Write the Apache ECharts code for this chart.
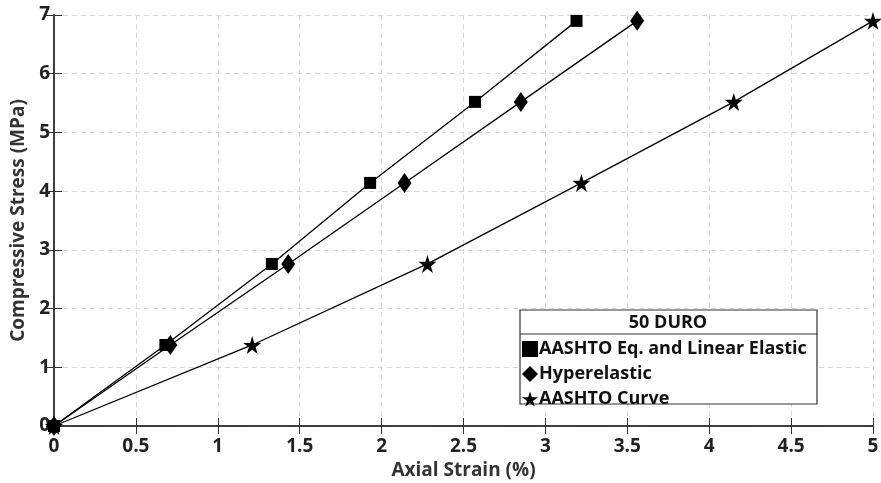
<!DOCTYPE html>
<html>
<head>
<meta charset="utf-8">
<script src="https://cdn.jsdelivr.net/npm/echarts@6/dist/echarts.min.js"></script>
<style>
  html, body { margin: 0; padding: 0; background: #fff; }
</style>
</head>
<body>
<div id="main" style="width: 881px;height:483px;"></div>
<script>
    // data
    var stress = [0, 1.38, 2.76, 4.14, 5.52, 6.9];
    var strainLinear = [0, 0.68, 1.33, 1.93, 2.57, 3.19];
    var strainHyper = [0, 0.71, 1.43, 2.14, 2.85, 3.56];
    var strainCurve = [0, 1.21, 2.28, 3.22, 4.15, 5.0];
    var seriesNames = ['AASHTO Eq. and Linear Elastic', 'Hyperelastic', 'AASHTO Curve'];
    var legendTitle = '50 DURO';

    var starPath = 'path://M50,0 L61,35 L98,35 L68,57 L79,91 L50,70 L21,91 L32,57 L2,35 L39,35 Z';
    var font = '"Open Sans", "DejaVu Sans", sans-serif';

    function pairs(xs) {
        return xs.map(function (x, i) { return [x, stress[i]]; });
    }

    var myChart = echarts.init(document.getElementById('main'));

    var axisText = { color: '#222', fontWeight: 'bold', fontSize: 19, fontFamily: font };
    var splitDash = { show: true, lineStyle: { color: '#d8d8d8', type: [5, 4], width: 1 } };

    var option = {
        backgroundColor: '#fff',
        animation: false,
        grid: { left: 54, right: 8, top: 15, bottom: 57, outerBoundsMode: 'none' },
        xAxis: [{
            type: 'value', min: 0, max: 5, interval: 0.5,
            name: 'Axial Strain (%)', nameLocation: 'middle', nameGap: 31,
            nameTextStyle: { color: '#333', fontWeight: 'bold', fontSize: 19, fontFamily: font },
            axisLine: { lineStyle: { color: '#333', width: 1.5 } },
            axisTick: { inside: true, length: 8, lineStyle: { color: '#333' } },
            axisLabel: Object.assign({ margin: 11 }, axisText),
            splitLine: splitDash
        }, {
            type: 'value', min: 0, max: 5, interval: 0.5, position: 'top',
            axisLine: { show: true, lineStyle: { color: '#333', width: 1.5 } },
            axisTick: { inside: true, length: 8, lineStyle: { color: '#333' } },
            axisLabel: { show: false }, splitLine: { show: false }
        }],
        yAxis: [{
            type: 'value', min: 0, max: 7, interval: 1,
            name: 'Compressive Stress (MPa)', nameLocation: 'middle', nameGap: 18,
            nameTextStyle: { color: '#333', fontWeight: 'bold', fontSize: 19, fontFamily: font },
            axisLine: { show: true, lineStyle: { color: '#333', width: 1.5 } },
            axisTick: { inside: true, length: 8, lineStyle: { color: '#333' } },
            axisLabel: Object.assign({ margin: 4 }, axisText),
            splitLine: splitDash
        }, {
            type: 'value', min: 0, max: 7, interval: 1, position: 'right',
            axisLine: { show: true, lineStyle: { color: '#333', width: 1.5 } },
            axisTick: { inside: true, length: 8, lineStyle: { color: '#333' } },
            axisLabel: { show: false }, splitLine: { show: false }
        }],
        legend: {
            z: 20,
            orient: 'vertical',
            left: 520, top: 338,
            padding: [2, 0, 0, 2],
            itemGap: 7,
            itemWidth: 16, itemHeight: 16,
            data: [
                { name: seriesNames[0], icon: 'rect' },
                { name: seriesNames[1], icon: 'diamond' },
                { name: seriesNames[2], icon: starPath }
            ],
            textStyle: { color: '#111', fontWeight: 'bold', fontSize: 18, lineHeight: 16, fontFamily: font, padding: [0, 0, 0, -4] }
        },
        graphic: [
            { type: 'rect', z: 5, shape: { x: 520, y: 310, width: 297, height: 94 },
              style: { fill: '#fff', stroke: '#333', lineWidth: 1.2 } },
            { type: 'line', z: 6, shape: { x1: 520, y1: 334, x2: 817, y2: 334 },
              style: { stroke: '#333', lineWidth: 1.2 } },
            { type: 'text', z: 6, x: 668, y: 323,
              style: { text: legendTitle, fill: '#111', font: 'bold 18px ' + font, align: 'center', verticalAlign: 'middle' } }
        ],
        series: [{
            name: seriesNames[0], type: 'line', data: pairs(strainLinear),
            symbol: 'rect', symbolSize: 12,
            lineStyle: { color: '#000', width: 1.3 }, itemStyle: { color: '#000' }
        }, {
            name: seriesNames[1], type: 'line', data: pairs(strainHyper),
            symbol: 'diamond', symbolSize: [14, 20],
            lineStyle: { color: '#000', width: 1.3 }, itemStyle: { color: '#000' }
        }, {
            name: seriesNames[2], type: 'line', data: pairs(strainCurve),
            symbol: starPath, symbolSize: 18,
            lineStyle: { color: '#000', width: 1.3 }, itemStyle: { color: '#000' }
        }]
    };
    myChart.setOption(option);
</script>
</body>
</html>
